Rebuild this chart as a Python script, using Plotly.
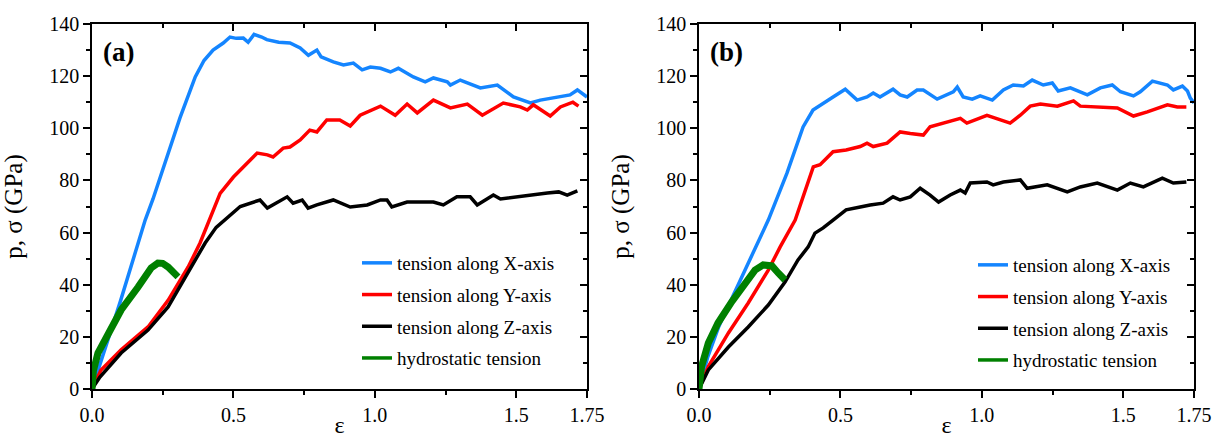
import plotly.graph_objects as go

# ---------------- data ----------------
series_names = ["tension along X-axis", "tension along Y-axis",
                "tension along Z-axis", "hydrostatic tension"]
colors = ["#1485FF", "#FF0000", "#000000", "#008000"]

# panel (a)
a_x_eps = [0, 0.053, 0.1, 0.188, 0.216, 0.311, 0.365, 0.396, 0.428, 0.464, 0.488, 0.51, 0.535, 0.552,
           0.573, 0.6, 0.618, 0.66, 0.70, 0.736, 0.765, 0.795, 0.81, 0.853, 0.889, 0.924, 0.955, 0.984,
           1.02, 1.055, 1.083, 1.136, 1.178, 1.207, 1.256, 1.267, 1.302, 1.373, 1.433, 1.49, 1.55,
           1.585, 1.645, 1.69, 1.716, 1.75]
a_x_val = [0, 17.6, 33.5, 64.8, 73, 104, 119.7, 126, 130, 132.7, 135, 134.5, 134.6, 133,
           136, 135, 134, 133, 132.7, 130.8, 128, 130, 127.4, 125.5, 124.3, 125, 122.4, 123.5,
           123, 121.6, 123, 119.7, 117.8, 119.3, 117.8, 116.6, 118.5, 115.5, 116.6, 112, 109.7,
           110.8, 112, 112.8, 114.7, 112]

a_y_eps = [0, 0.032, 0.103, 0.198, 0.269, 0.311, 0.34, 0.382, 0.418, 0.453, 0.5, 0.548, 0.584, 0.62,
           0.64, 0.676, 0.70, 0.736, 0.77, 0.795, 0.83, 0.876, 0.913, 0.948, 1.02, 1.072, 1.114, 1.15,
           1.207, 1.267, 1.327, 1.38, 1.454, 1.514, 1.539, 1.56, 1.62, 1.656, 1.70, 1.72]
a_y_val = [0, 7.3, 15, 23.8, 34, 41.5, 46.8, 56, 65.5, 75, 81.3, 86.7, 90.5, 89.8,
           89, 92.4, 92.8, 95.5, 99.3, 98.6, 103.2, 103.2, 100.9, 105, 108.5, 105, 109.3, 105.9,
           110.8, 107.8, 109.3, 105, 109.7, 108.2, 107, 109, 104.7, 108.2, 110, 108.5]

a_z_eps = [0, 0.028, 0.103, 0.198, 0.269, 0.34, 0.4, 0.439, 0.478, 0.524, 0.594, 0.62, 0.69, 0.711,
           0.743, 0.764, 0.795, 0.853, 0.913, 0.973, 1.02, 1.043, 1.06, 1.114, 1.207, 1.242, 1.29,
           1.337, 1.362, 1.419, 1.444, 1.539, 1.61, 1.65, 1.68, 1.716]
a_z_val = [0, 4.6, 13.8, 22.6, 31.5, 44.5, 56, 62, 65.5, 70, 72.5, 69.4, 73.7, 71.3,
           72.5, 69.4, 70.6, 72.5, 69.8, 70.6, 72.5, 72.5, 69.8, 71.7, 71.7, 70.6, 73.7,
           73.7, 70.6, 74.4, 72.9, 74.4, 75.2, 75.6, 74.4, 76]

a_h_eps = [0, 0.005, 0.021, 0.057, 0.103, 0.163, 0.209, 0.233, 0.25, 0.269, 0.288, 0.304]
a_h_val = [0, 7, 13.8, 21.5, 30.3, 39.1, 46.4, 48.3, 48.2, 46.8, 44.5, 43]

# panel (b)
b_x_eps = [0, 0.03, 0.07, 0.121, 0.18, 0.245, 0.311, 0.368, 0.403, 0.453, 0.474, 0.517, 0.559, 0.594,
           0.616, 0.64, 0.686, 0.711, 0.736, 0.771, 0.793, 0.842, 0.899, 0.913, 0.934, 0.966, 0.994,
           1.037, 1.076, 1.111, 1.147, 1.178, 1.217, 1.249, 1.27, 1.313, 1.373, 1.419, 1.461, 1.49,
           1.536, 1.56, 1.603, 1.656, 1.677, 1.709, 1.727, 1.737, 1.75]
b_x_val = [0, 12, 24, 36, 50, 64.8, 82.8, 100.5, 107, 110.8, 112, 115, 110.8, 112,
           113.5, 112, 115, 112.8, 112, 114.7, 114.7, 111.2, 114, 115.8, 112, 111.2, 112.4,
           110.8, 114.7, 116.6, 116.2, 118.5, 116.6, 117.4, 114.3, 115.5, 112.8, 115.5, 116.6, 114,
           112.4, 114, 118.1, 116.6, 114.7, 116.2, 114.3, 111.6, 109.7]

b_y_eps = [0, 0.033, 0.104, 0.174, 0.245, 0.287, 0.34, 0.404, 0.428, 0.474, 0.52, 0.57, 0.594, 0.616,
           0.665, 0.711, 0.747, 0.793, 0.817, 0.864, 0.924, 0.947, 1.018, 1.1, 1.136, 1.171, 1.207,
           1.267, 1.324, 1.348, 1.419, 1.479, 1.536, 1.585, 1.656, 1.691, 1.723]
b_y_val = [0, 8.6, 21.5, 33, 45.6, 54.5, 64.8, 85.2, 86, 91, 91.7, 93, 94.3, 93,
           94.3, 98.6, 98, 97.4, 100.6, 102, 103.8, 102, 105, 102, 105, 108.5, 109.3,
           108.5, 110.5, 108.5, 108.2, 107.8, 104.7, 106.3, 109, 108.2, 108.2]

b_z_eps = [0, 0.033, 0.104, 0.174, 0.245, 0.304, 0.35, 0.386, 0.41, 0.439, 0.474, 0.52, 0.57, 0.605,
           0.651, 0.686, 0.711, 0.747, 0.782, 0.817, 0.847, 0.888, 0.924, 0.941, 0.959, 1.018, 1.04,
           1.076, 1.136, 1.16, 1.231, 1.302, 1.348, 1.408, 1.479, 1.525, 1.571, 1.638, 1.677, 1.723]
b_z_val = [0, 7.3, 16.1, 23.8, 32.2, 41, 49.5, 54.5, 59.8, 61.8, 64.8, 68.7, 69.8, 70.6,
           71.3, 73.7, 72.5, 73.7, 77, 74.4, 71.7, 74.4, 76.3, 75.2, 79, 79.4, 78.3,
           79.4, 80.2, 77, 78.3, 75.6, 77.5, 79, 76.3, 79, 77.5, 80.9, 79, 79.4]

b_h_eps = [0, 0.009, 0.033, 0.067, 0.116, 0.163, 0.198, 0.227, 0.258, 0.28, 0.304]
b_h_val = [0, 8.6, 17.6, 25.3, 33.5, 40.6, 45.6, 47.6, 47.2, 44.5, 41.8]

x_tickvals = [0, 0.5, 1.0, 1.5, 1.75]
x_ticktext = ["0.0", "0.5", "1.0", "1.5", "1.75"]
y_tickvals = [0, 20, 40, 60, 80, 100, 120, 140]
panel_labels = ["(a)", "(b)"]

# ---------------- figure ----------------
FONT = "Liberation Serif, Times New Roman, serif"
W, H = 1212, 438
xdom = [[92 / W, 587 / W], [699 / W, 1194 / W]]
ydom = [1 - 389 / H, 1 - 24 / H]

fig = go.Figure()
panels = [
    [(a_x_eps, a_x_val), (a_y_eps, a_y_val), (a_z_eps, a_z_val), (a_h_eps, a_h_val)],
    [(b_x_eps, b_x_val), (b_y_eps, b_y_val), (b_z_eps, b_z_val), (b_h_eps, b_h_val)],
]
for p, data in enumerate(panels):
    xa = "x" if p == 0 else "x2"
    ya = "y" if p == 0 else "y2"
    leg = "legend" if p == 0 else "legend2"
    for i, (ex, vy) in enumerate(data):
        if i == 3:
            # legend entry with a normal-width line (as in the reference legend)
            fig.add_trace(go.Scatter(
                x=[None], y=[None], mode="lines", name=series_names[i],
                line=dict(color=colors[i], width=3.5),
                xaxis=xa, yaxis=ya, legend=leg, legendgroup=f"{p}{i}", hoverinfo="skip",
            ))
        fig.add_trace(go.Scatter(
            x=ex, y=vy, mode="lines", name=series_names[i],
            line=dict(color=colors[i], width=7 if i == 3 else 3.5),
            xaxis=xa, yaxis=ya, legend=leg, legendgroup=f"{p}{i}",
            showlegend=(i != 3),
        ))

tickfont = dict(family=FONT, size=20, color="black")
for p in range(2):
    sfx = "" if p == 0 else "2"
    fig.update_layout(**{
        f"xaxis{sfx}": dict(
            domain=xdom[p], range=[0, 1.75], anchor=f"y{sfx}", automargin=False,
            tickmode="array", tickvals=x_tickvals, ticktext=x_ticktext,
            ticks="outside", ticklen=7, tickwidth=1.5, tickcolor="black",
            minor=dict(ticks="outside", ticklen=4, tickwidth=1.5, tickcolor="black",
                       tickmode="array", tickvals=[0.25, 0.75, 1.25]),
            showline=True, linecolor="black", linewidth=1.5, mirror=True,
            showgrid=False, zeroline=False, tickfont=tickfont,
            title=dict(text="ε", font=dict(family=FONT, size=24, color="black"), standoff=14),
        ),
        f"yaxis{sfx}": dict(
            domain=ydom, range=[0, 140], anchor=f"x{sfx}", automargin=False,
            tickmode="array", tickvals=y_tickvals,
            ticks="outside", ticklen=7, tickwidth=1.5, tickcolor="black",
            minor=dict(ticks="outside", ticklen=4, tickwidth=1.5, tickcolor="black", dtick=10),
            showline=True, linecolor="black", linewidth=1.5, mirror=True,
            showgrid=False, zeroline=False, tickfont=tickfont,
            title=dict(text="p, σ (GPa)", font=dict(family=FONT, size=25, color="black"), standoff=20),
        ),
    })
    # inward ticks on the top and right edges
    tx = 3 + 2 * p
    fig.update_layout(**{
        f"xaxis{tx}": dict(
            domain=xdom[p], range=[0, 1.75], overlaying="x" if p == 0 else "x2",
            anchor=f"y{sfx}", side="top", showticklabels=False, automargin=False,
            tickmode="array", tickvals=x_tickvals, ticks="inside", ticklen=7,
            tickwidth=1.5, tickcolor="black",
            minor=dict(ticks="inside", ticklen=4, tickwidth=1.5, tickcolor="black",
                       tickmode="array", tickvals=[0.25, 0.75, 1.25]),
            showgrid=False, zeroline=False,
        ),
        f"yaxis{tx}": dict(
            domain=ydom, range=[0, 140], overlaying="y" if p == 0 else "y2",
            anchor=f"x{sfx}", side="right", showticklabels=False, automargin=False,
            tickmode="array", tickvals=y_tickvals, ticks="inside", ticklen=7,
            tickwidth=1.5, tickcolor="black",
            minor=dict(ticks="inside", ticklen=4, tickwidth=1.5, tickcolor="black", dtick=10),
            showgrid=False, zeroline=False,
        ),
    })
    fig.add_annotation(
        text=f"<b>{panel_labels[p]}</b>", xref=f"x{sfx} domain", yref=f"y{sfx} domain",
        x=0.018, y=0.924, xanchor="left", yanchor="middle", showarrow=False,
        font=dict(family=FONT, size=27, color="black"),
    )

# empty traces on the overlay axes so they render
for p in range(2):
    tx = 3 + 2 * p
    fig.add_trace(go.Scatter(x=[None], y=[None], xaxis=f"x{tx}", yaxis=f"y{tx}",
                             showlegend=False, hoverinfo="skip"))

legfont = dict(family=FONT, size=19, color="black")
fig.update_layout(
    width=W, height=H, margin=dict(l=0, r=0, t=0, b=0, autoexpand=False),
    font=dict(family=FONT, color="black"),
    paper_bgcolor="white", plot_bgcolor="white",
    legend=dict(x=357 / W, y=1 - 244 / H, xanchor="left", yanchor="top",
                bgcolor="rgba(0,0,0,0)", font=legfont, tracegroupgap=4, traceorder="grouped"),
    legend2=dict(x=973 / W, y=1 - 246 / H, xanchor="left", yanchor="top",
                 bgcolor="rgba(0,0,0,0)", font=legfont, tracegroupgap=4, traceorder="grouped"),
)

# place the figure at the window origin (remove the default 8px page margin)
fig.write_html(
    "out.html",
    config={"displayModeBar": False},
    post_script="document.body.style.margin='0px';document.body.style.overflow='hidden';",
)
